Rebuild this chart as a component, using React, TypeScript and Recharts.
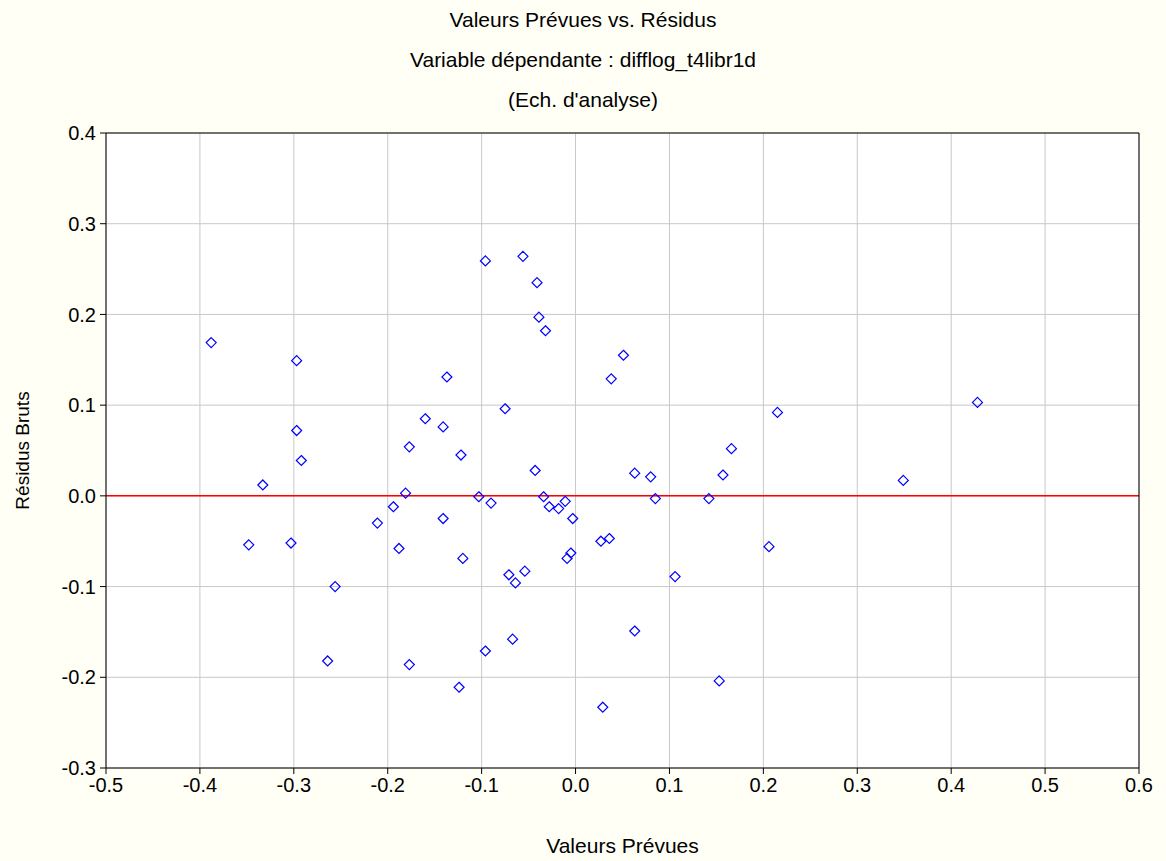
import { ScatterChart, Scatter, XAxis, YAxis, CartesianGrid, ReferenceLine } from "recharts";

const predicted = [-0.388,-0.297,-0.297,-0.292,-0.333,-0.348,-0.303,-0.256,-0.264,-0.177,-0.181,-0.194,-0.211,-0.188,-0.177,-0.16,-0.141,-0.137,-0.122,-0.141,-0.12,-0.124,-0.096,-0.096,-0.103,-0.09,-0.075,-0.071,-0.064,-0.054,-0.067,-0.056,-0.041,-0.039,-0.032,-0.043,-0.034,-0.028,-0.018,-0.011,-0.003,-0.005,-0.009,0.027,0.036,0.029,0.038,0.051,0.063,0.063,0.08,0.085,0.106,0.142,0.157,0.166,0.153,0.206,0.215,0.349,0.428];
const residuals = [0.169,0.149,0.072,0.039,0.012,-0.054,-0.052,-0.1,-0.182,0.054,0.003,-0.012,-0.03,-0.058,-0.186,0.085,0.076,0.131,0.045,-0.025,-0.069,-0.211,0.259,-0.171,-0.001,-0.008,0.096,-0.087,-0.096,-0.083,-0.158,0.264,0.235,0.197,0.182,0.028,-0.001,-0.012,-0.014,-0.006,-0.025,-0.063,-0.069,-0.05,-0.047,-0.233,0.129,0.155,0.025,-0.149,0.021,-0.003,-0.089,-0.003,0.023,0.052,-0.204,-0.056,0.092,0.017,0.103];
const xTicks = [-0.5,-0.4,-0.3,-0.2,-0.1,0,0.1,0.2,0.3,0.4,0.5,0.6];
const yTicks = [-0.3,-0.2,-0.1,0,0.1,0.2,0.3,0.4];
const titleLines = ["Valeurs Prévues vs. Résidus", "Variable dépendante : difflog_t4libr1d", "(Ech. d'analyse)"];

const data = predicted.map((x, i) => ({ x, y: residuals[i] }));
const font = "'Liberation Sans', Arial, sans-serif";
const fmt = (v: number) => v.toFixed(1);

const Diamond = (props: any) => {
  const { cx, cy } = props;
  const r = 5;
  return <path d={`M${cx},${cy - r}L${cx + r},${cy}L${cx},${cy + r}L${cx - r},${cy}Z`} fill="none" stroke="#0000ff" strokeWidth={1.2} />;
};

export default function App() {
  return (
    <div style={{ position: "absolute", left: 0, top: 0, width: 1166, height: 861, background: "#fffff6", fontFamily: font }}>
      {titleLines.map((t, i) => (
        <div key={i} style={{ position: "absolute", left: 0, width: 1166, top: 8 + i * 40, textAlign: "center", fontSize: 21, color: "#000" }}>{t}</div>
      ))}
      <ScatterChart width={1166} height={861} margin={{ top: 133, right: 27, left: 0, bottom: 0 }} style={{ position: "absolute", left: 0, top: 0 }}>
        <CartesianGrid stroke="#c8c8c8" fill="#fff" fillOpacity={1} horizontalValues={yTicks} verticalValues={xTicks} />
        <XAxis type="number" dataKey="x" domain={[-0.5, 0.6]} ticks={xTicks} tickFormatter={fmt} height={93}
          tick={{ fill: "#000", fontSize: 20, fontFamily: font }} stroke="#000" tickSize={6} tickMargin={4}
          label={{ value: "Valeurs Prévues", position: "insideBottom", offset: 8, fill: "#000", fontSize: 21, fontFamily: font }} />
        <YAxis type="number" dataKey="y" domain={[-0.3, 0.4]} ticks={yTicks} tickFormatter={fmt} width={106}
          tick={{ fill: "#000", fontSize: 20, fontFamily: font }} stroke="#000" tickSize={6} tickMargin={4}
          label={{ value: "Résidus Bruts", angle: -90, position: "insideLeft", offset: 22, fill: "#000", fontSize: 19, fontFamily: font, style: { textAnchor: "middle" } }} />
        <ReferenceLine y={0} stroke="#ff0000" strokeWidth={1.5} />
        <ReferenceLine x={0.6} stroke="#000" />
        <ReferenceLine y={0.4} stroke="#000" />
        <Scatter data={data} shape={Diamond} isAnimationActive={false} />
      </ScatterChart>
    </div>
  );
}
